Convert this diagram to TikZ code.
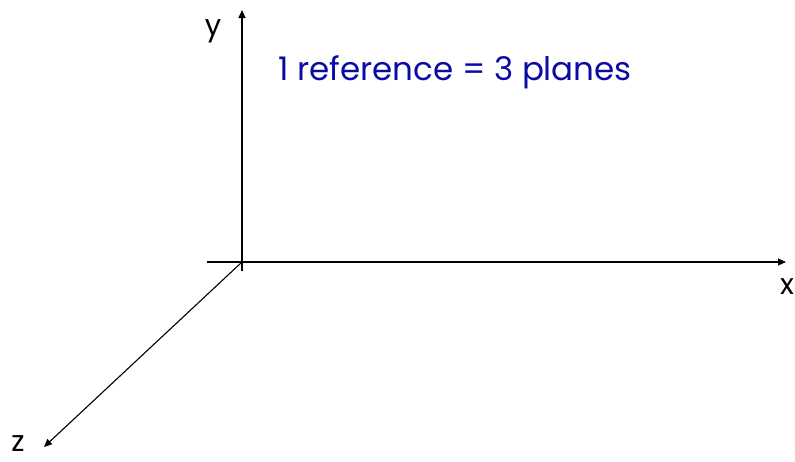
\documentclass[tikz,border=0pt]{standalone}
\usepackage{fontspec}
\setmainfont{Poppins}
\usepackage{xcolor}
\usetikzlibrary{arrows.meta}
\definecolor{titleblue}{RGB}{10,10,165}
\tikzset{
  axisline/.style={draw=black, line width=1.1pt, -{Triangle[length=8pt,width=7pt]}},
  axislabel/.style={font=\fontsize{29}{31}\selectfont, inner sep=0pt, text=black},
  titletext/.style={font=\fontsize{32.5}{36}\selectfont, text=titleblue, inner sep=0pt, anchor=base west},
}
\begin{document}
\begin{tikzpicture}[x=1pt, y=-1pt]
  \useasboundingbox (0,0) rectangle (795,461);

  % origin and axis ends
  \coordinate (o) at (242,262);
  \coordinate (ystart) at (242,271);
  \coordinate (yend) at (242,10);
  \coordinate (xstart) at (207,262);
  \coordinate (xend) at (786,262);
  \coordinate (zend) at (44,447);

  % axes
  \draw[axisline] (ystart) -- (yend);
  \draw[axisline] (xstart) -- (xend);
  \draw[axisline] (o) -- (zend);

  % labels
  \node[axislabel] (ylabel) at (213,31) {y};
  \node[axislabel] (xlabel) at (787,287) {x};
  \node[axislabel] (zlabel) at (18,444) {z};
  \node[titletext] (title) at (278,80) {1 reference = 3 planes};
\end{tikzpicture}
\end{document}
